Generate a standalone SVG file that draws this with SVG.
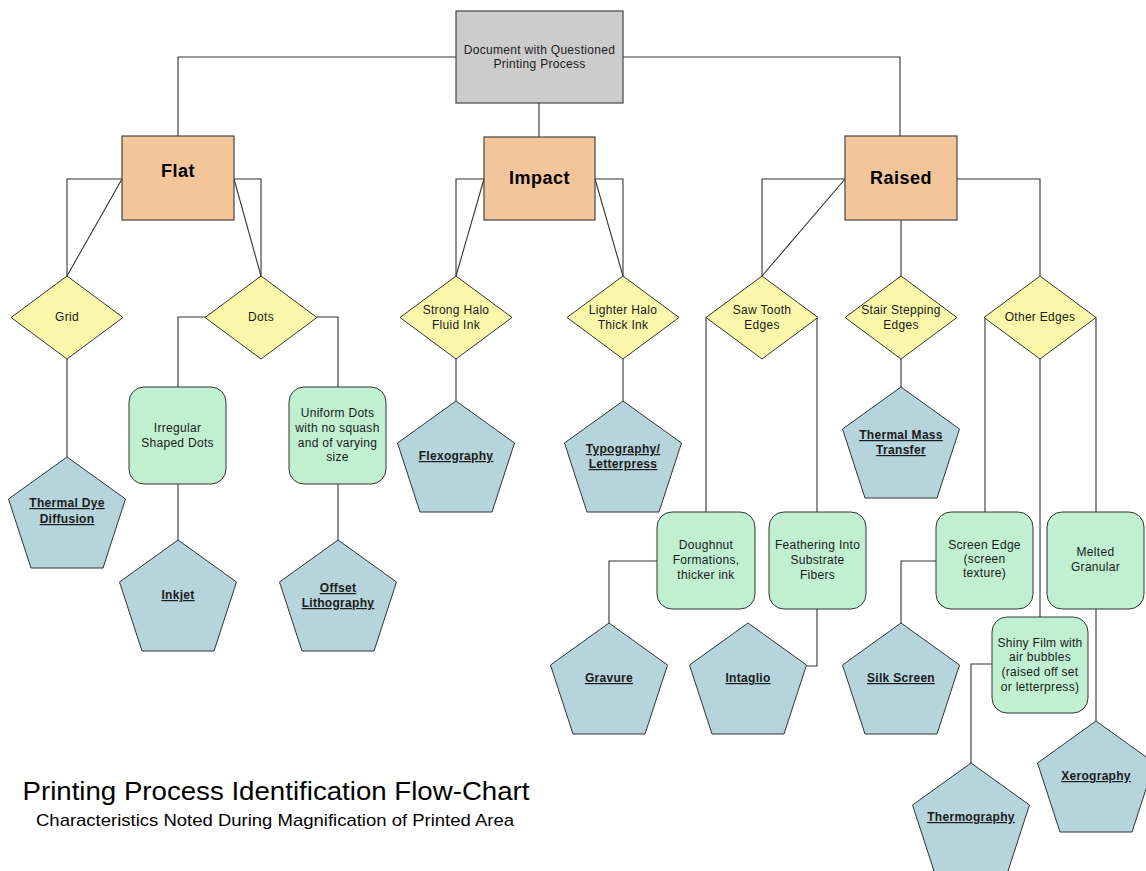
<svg xmlns="http://www.w3.org/2000/svg" xmlns:xlink="http://www.w3.org/1999/xlink" width="1146" height="871" viewBox="0 0 1146 871">
<style>
text{font-family:"Liberation Sans",Arial,sans-serif;fill:#1a1a1a;text-anchor:middle}
.t{font-size:12px;letter-spacing:0.3px}
.b{font-size:12px;letter-spacing:0.3px;font-weight:bold;text-decoration:underline}
.c{font-size:18px;letter-spacing:0.5px;font-weight:bold;fill:#000}
.root{fill:#cccccc;stroke:#444;stroke-width:1.2}
.cat{fill:#f4c59a;stroke:#444;stroke-width:1.2}
.dia{fill:#f9f7a9;stroke:#333;stroke-width:1}
.grn{fill:#c1efd1;stroke:#333;stroke-width:1}
.pent{fill:#b5d4dc;stroke:#333;stroke-width:1}
.conn path{fill:none;stroke:#333;stroke-width:1.1}
</style>
<defs>
<polygon id="pent" points="0,0 58.5,42 36,111 -36,111 -58.5,42"/>
<polygon id="dia" points="0,-41.5 56,0 0,41.5 -56,0"/>
</defs>
<rect width="1146" height="871" fill="#fff"/>
<g id="connectors" class="conn">
<path d="M456,57 H178 V136"/>
<path d="M623,57 H900 V136"/>
<path d="M539,103 V137"/>
<path d="M122,179 H67 V276"/>
<path d="M122,179 L67,276"/>
<path d="M234,179 H261 V276"/>
<path d="M234,179 L261,276"/>
<path d="M67,359 V457"/>
<path d="M206,317 H178 V387"/>
<path d="M317,317 H338 V387"/>
<path d="M178,484 V540"/>
<path d="M338,484 V540"/>
<path d="M484,179 H456 V276"/>
<path d="M484,179 L456,276"/>
<path d="M595,179 H623 V276"/>
<path d="M595,179 L623,276"/>
<path d="M456,359 V401"/>
<path d="M623,359 V401"/>
<path d="M845,179 H762 V276"/>
<path d="M845,179 L762,276"/>
<path d="M901,220 V276"/>
<path d="M957,179 H1040 V276"/>
<path d="M901,359 V387"/>
<path d="M706,317 V512"/>
<path d="M817,317 V512"/>
<path d="M657,561 H609 V623"/>
<path d="M817,609 V666 H807"/>
<path d="M985,317 V512"/>
<path d="M1040,359 V617"/>
<path d="M1096,317 V512"/>
<path d="M936,561 H901 V623"/>
<path d="M992,664 H971 V763"/>
<path d="M1096,609 V721"/>
</g>
<g id="root">
<rect class="root" x="456" y="11" width="167" height="92"/>
<text class="t" x="539.5" y="54">Document with Questioned</text>
<text class="t" x="539.5" y="68">Printing Process</text>
</g>
<g id="flat">
<rect class="cat" x="122" y="136" width="112" height="84"/>
<text class="c" x="178" y="177">Flat</text>
</g>
<g id="impact">
<rect class="cat" x="484" y="137" width="111" height="83"/>
<text class="c" x="539.5" y="184">Impact</text>
</g>
<g id="raised">
<rect class="cat" x="845" y="136" width="112" height="84"/>
<text class="c" x="901" y="184">Raised</text>
</g>
<g id="grid"><use href="#dia" class="dia" x="67" y="317.5"/><text class="t" x="67" y="321">Grid</text></g>
<g id="dots"><use href="#dia" class="dia" x="261" y="317.5"/><text class="t" x="261" y="321">Dots</text></g>
<g id="stronghalo"><use href="#dia" class="dia" x="456" y="317.5"/><text class="t" x="456" y="314">Strong Halo</text><text class="t" x="456" y="329">Fluid Ink</text></g>
<g id="lighterhalo"><use href="#dia" class="dia" x="623" y="317.5"/><text class="t" x="623" y="314">Lighter Halo</text><text class="t" x="623" y="329">Thick Ink</text></g>
<g id="sawtooth"><use href="#dia" class="dia" x="762" y="317.5"/><text class="t" x="762" y="314">Saw Tooth</text><text class="t" x="762" y="329">Edges</text></g>
<g id="stairstep"><use href="#dia" class="dia" x="901" y="317.5"/><text class="t" x="901" y="314">Stair Stepping</text><text class="t" x="901" y="329">Edges</text></g>
<g id="otheredges"><use href="#dia" class="dia" x="1040" y="317.5"/><text class="t" x="1040" y="321">Other Edges</text></g>
<g id="irregular"><rect class="grn" x="129" y="387" width="97" height="97" rx="15"/><text class="t" x="177.5" y="432">Irregular</text><text class="t" x="177.5" y="447">Shaped Dots</text></g>
<g id="uniform"><rect class="grn" x="289" y="387" width="97" height="97" rx="15"/><text class="t" x="337.5" y="417">Uniform Dots</text><text class="t" x="337.5" y="432">with no squash</text><text class="t" x="337.5" y="447">and of varying</text><text class="t" x="337.5" y="461">size</text></g>
<g id="doughnut"><rect class="grn" x="657" y="512" width="98" height="97" rx="15"/><text class="t" x="706" y="549">Doughnut</text><text class="t" x="706" y="564">Formations,</text><text class="t" x="706" y="579">thicker ink</text></g>
<g id="feathering"><rect class="grn" x="769" y="512" width="97" height="97" rx="15"/><text class="t" x="817.5" y="549">Feathering Into</text><text class="t" x="817.5" y="564">Substrate</text><text class="t" x="817.5" y="579">Fibers</text></g>
<g id="screenedge"><rect class="grn" x="936" y="512" width="97" height="97" rx="15"/><text class="t" x="984.5" y="549">Screen Edge</text><text class="t" x="984.5" y="563">(screen</text><text class="t" x="984.5" y="577">texture)</text></g>
<g id="melted"><rect class="grn" x="1047" y="512" width="97" height="97" rx="15"/><text class="t" x="1095.5" y="556">Melted</text><text class="t" x="1095.5" y="571">Granular</text></g>
<g id="shinyfilm"><rect class="grn" x="992" y="617" width="96" height="96" rx="15"/><text class="t" x="1040" y="647">Shiny Film with</text><text class="t" x="1040" y="661">air bubbles</text><text class="t" x="1040" y="676">(raised off set</text><text class="t" x="1040" y="691">or letterpress)</text></g>
<g id="thermaldye"><use href="#pent" class="pent" x="67" y="457"/><text class="b" x="67" y="507">Thermal Dye</text><text class="b" x="67" y="523">Diffusion</text></g>
<g id="inkjet"><use href="#pent" class="pent" x="178" y="540"/><text class="b" x="178" y="599">Inkjet</text></g>
<g id="offset"><use href="#pent" class="pent" x="338" y="540"/><text class="b" x="338" y="592">Offset</text><text class="b" x="338" y="607">Lithography</text></g>
<g id="flexography"><use href="#pent" class="pent" x="456" y="401"/><text class="b" x="456" y="460">Flexography</text></g>
<g id="typography"><use href="#pent" class="pent" x="623" y="401"/><text class="b" x="623" y="453">Typography/</text><text class="b" x="623" y="468">Letterpress</text></g>
<g id="thermalmass"><use href="#pent" class="pent" x="901" y="387"/><text class="b" x="901" y="439">Thermal Mass</text><text class="b" x="901" y="454">Transfer</text></g>
<g id="gravure"><use href="#pent" class="pent" x="609" y="623"/><text class="b" x="609" y="682">Gravure</text></g>
<g id="intaglio"><use href="#pent" class="pent" x="748" y="623"/><text class="b" x="748" y="682">Intaglio</text></g>
<g id="silkscreen"><use href="#pent" class="pent" x="901" y="623"/><text class="b" x="901" y="682">Silk Screen</text></g>
<g id="thermography"><use href="#pent" class="pent" x="971" y="763"/><text class="b" x="971" y="821">Thermography</text></g>
<g id="xerography"><use href="#pent" class="pent" x="1096" y="721"/><text class="b" x="1096" y="780">Xerography</text></g>
<g id="title">
<text x="276" y="800" textLength="507" lengthAdjust="spacingAndGlyphs" style="font-size:26px;fill:#000">Printing Process Identification Flow-Chart</text>
<text x="275" y="826" textLength="478" lengthAdjust="spacingAndGlyphs" style="font-size:17px;fill:#000">Characteristics Noted During Magnification of Printed Area</text>
</g>
</svg>
